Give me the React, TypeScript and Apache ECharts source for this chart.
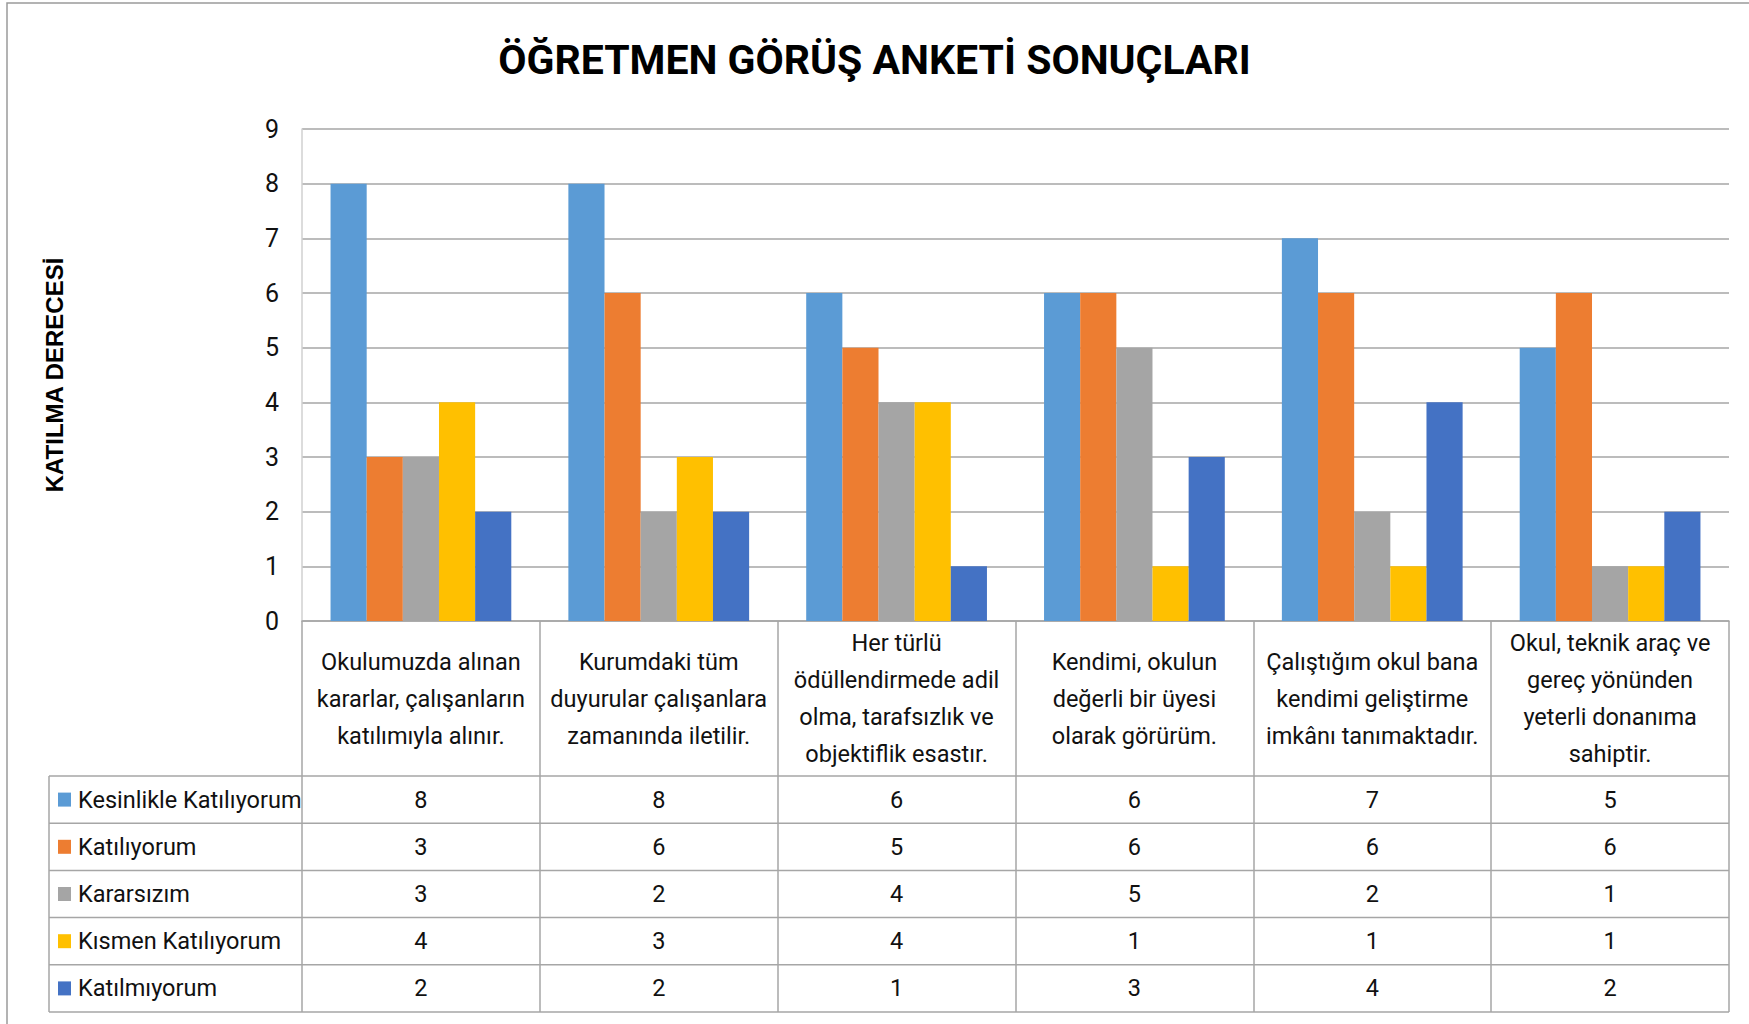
import React, { useEffect, useRef } from "react";
import * as echarts from "echarts";

const TITLE = "ÖĞRETMEN GÖRÜŞ ANKETİ SONUÇLARI";
const Y_NAME = "KATILMA DERECESİ";

const CATEGORIES = [
  "Okulumuzda alınan\nkararlar, çalışanların\nkatılımıyla alınır.",
  "Kurumdaki tüm\nduyurular çalışanlara\nzamanında iletilir.",
  "Her türlü\nödüllendirmede adil\nolma, tarafsızlık ve\nobjektiflik esastır.",
  "Kendimi, okulun\ndeğerli bir üyesi\nolarak görürüm.",
  "Çalıştığım okul bana\nkendimi geliştirme\nimkânı tanımaktadır.",
  "Okul, teknik araç ve\ngereç yönünden\nyeterli donanıma\nsahiptir.",
];

const SERIES_NAMES = [
  "Kesinlikle Katılıyorum",
  "Katılıyorum",
  "Kararsızım",
  "Kısmen Katılıyorum",
  "Katılmıyorum",
];

const KESINLIKLE = [8, 8, 6, 6, 7, 5];
const KATILIYORUM = [3, 6, 5, 6, 6, 6];
const KARARSIZIM = [3, 2, 4, 5, 2, 1];
const KISMEN = [4, 3, 4, 1, 1, 1];
const KATILMIYORUM = [2, 2, 1, 3, 4, 2];

const SERIES_VALUES = [KESINLIKLE, KATILIYORUM, KARARSIZIM, KISMEN, KATILMIYORUM];
const COLORS = ["#5B9BD5", "#ED7D31", "#A5A5A5", "#FFC000", "#4472C4"];

const Y_MIN = 0;
const Y_MAX = 9;
const Y_INTERVAL = 1;

// layout
const W = 1749;
const H = 1024;
const GRID_LEFT = 302;
const GRID_RIGHT = 20;
const GRID_TOP = 129;
const GRID_BOTTOM = 403;
const PLOT_BOTTOM = H - GRID_BOTTOM;
const TABLE_TOP = 776;
const ROW_H = 47.2;
const TABLE_LEFT = 49;
const LINE_COLOR = "#A6A6A6";
const TEXT_COLOR = "#111111";
const FONT = "Roboto, 'Liberation Sans', sans-serif";
const FS = 23.5;

export default function App() {
  const ref = useRef<HTMLDivElement>(null);

  useEffect(() => {
    if (!ref.current) return;
    const chart = echarts.init(ref.current, null, { renderer: "svg" });
    const option: any = {
      animation: false,
      backgroundColor: "#ffffff",
      title: {
        text: TITLE,
        left: "center",
        top: 39,
        padding: 0,
        textStyle: {
          fontFamily: FONT,
          fontWeight: "bold",
          fontSize: 41,
          color: "#000000",
        },
      },
      grid: {
        left: GRID_LEFT,
        right: GRID_RIGHT,
        top: GRID_TOP,
        bottom: GRID_BOTTOM,
        containLabel: false,
      },
      xAxis: {
        type: "category",
        data: CATEGORIES,
        boundaryGap: true,
        axisLine: { show: true, lineStyle: { color: LINE_COLOR, width: 1.5 } },
        axisTick: {
          show: true,
          interval: 0,
          length: TABLE_TOP + ROW_H * 5 - PLOT_BOTTOM,
          lineStyle: { color: LINE_COLOR, width: 1.5 },
        },
        axisLabel: {
          interval: 0,
          fontFamily: FONT,
          fontSize: FS,
          lineHeight: 37,
          color: TEXT_COLOR,
          verticalAlign: "middle",
          margin: (TABLE_TOP - PLOT_BOTTOM) / 2,
        },
        splitLine: { show: false },
      },
      yAxis: {
        type: "value",
        min: Y_MIN,
        max: Y_MAX,
        interval: Y_INTERVAL,
        name: Y_NAME,
        nameLocation: "middle",
        nameGap: 236,
        nameRotate: 90,
        nameTextStyle: {
          fontFamily: "'Liberation Sans', Arial, sans-serif",
          fontWeight: "bold",
          fontSize: 24,
          color: "#000000",
        },
        axisLine: { show: true, lineStyle: { color: "#D0D0D0", width: 1.5 } },
        axisTick: { show: false },
        axisLabel: {
          fontFamily: FONT,
          fontSize: 25,
          color: TEXT_COLOR,
          margin: 23,
        },
        splitLine: { show: true, lineStyle: { color: LINE_COLOR, width: 1.5 } },
      },
      series: SERIES_NAMES.map((name, i) => ({
        name,
        type: "bar",
        data: SERIES_VALUES[i],
        barGap: "0%",
        barCategoryGap: "24%",
        itemStyle: { color: COLORS[i] },
      })),
    };
    chart.setOption(option);

    const xs = CATEGORIES.map((_, i) => chart.convertToPixel({ xAxisIndex: 0 }, i) as number);
    const rightEdge = W - GRID_RIGHT;
    const graphic: any[] = [];
    // outer frame (top and left edges visible)
    graphic.push({
      type: "rect",
      silent: true,
      shape: { x: 7, y: 3, width: W + 100, height: H + 100 },
      style: { fill: "none", stroke: "#9A9A9A", lineWidth: 1.5 },
    });
    // horizontal table lines
    for (let r = 0; r <= SERIES_NAMES.length; r++) {
      const y = TABLE_TOP + r * ROW_H;
      graphic.push({
        type: "line",
        silent: true,
        shape: { x1: TABLE_LEFT, y1: y, x2: rightEdge, y2: y },
        style: { stroke: LINE_COLOR, lineWidth: 1.5 },
      });
    }
    // left table border
    graphic.push({
      type: "line",
      silent: true,
      shape: { x1: TABLE_LEFT, y1: TABLE_TOP, x2: TABLE_LEFT, y2: TABLE_TOP + ROW_H * SERIES_NAMES.length },
      style: { stroke: LINE_COLOR, lineWidth: 1.5 },
    });
    SERIES_NAMES.forEach((name, r) => {
      const cy = TABLE_TOP + (r + 0.5) * ROW_H;
      graphic.push({
        type: "rect",
        silent: true,
        shape: { x: TABLE_LEFT + 9, y: cy - 7, width: 13, height: 14 },
        style: { fill: COLORS[r] },
      });
      graphic.push({
        type: "text",
        silent: true,
        x: TABLE_LEFT + 29,
        y: cy,
        style: {
          text: name,
          fontFamily: FONT,
          fontSize: FS,
          fill: TEXT_COLOR,
          verticalAlign: "middle",
          align: "left",
        },
      });
      SERIES_VALUES[r].forEach((v, c) => {
        graphic.push({
          type: "text",
          silent: true,
          x: xs[c],
          y: cy,
          style: {
            text: String(v),
            fontFamily: FONT,
            fontSize: FS,
            fill: TEXT_COLOR,
            verticalAlign: "middle",
            align: "center",
          },
        });
      });
    });
    chart.setOption({ graphic });

    return () => {
      chart.dispose();
    };
  }, []);

  return (
    <div
      ref={ref}
      style={{ position: "fixed", left: 0, top: 0, width: W, height: H, background: "#fff" }}
    />
  );
}
